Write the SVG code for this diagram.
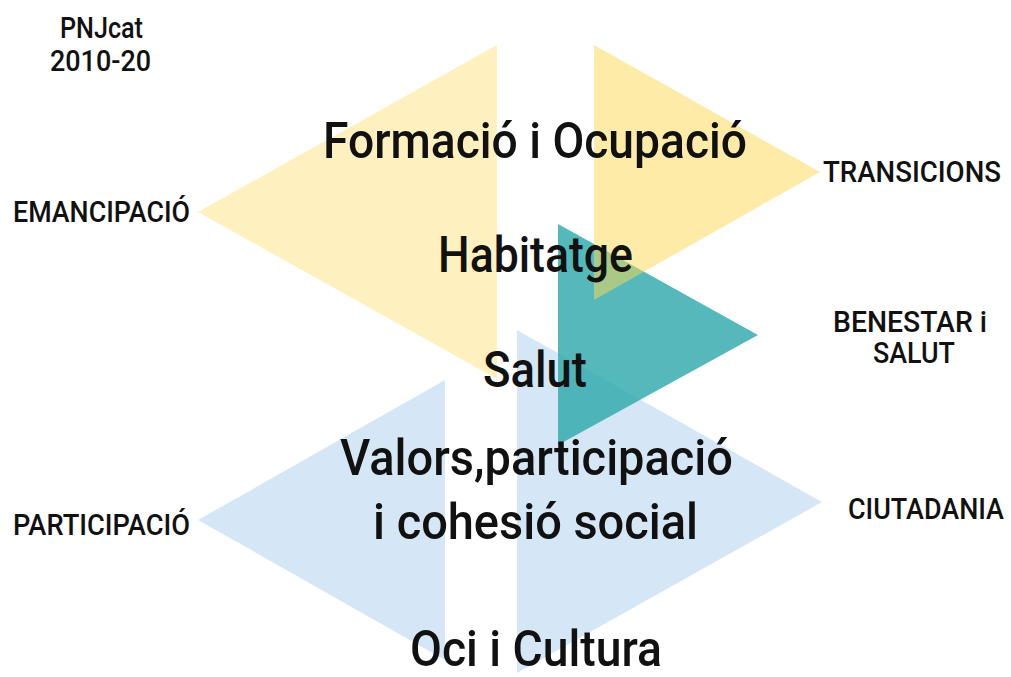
<svg xmlns="http://www.w3.org/2000/svg" width="1011" height="677" viewBox="0 0 1011 677">
<style>
text{font-family:Roboto,"DejaVu Sans",sans-serif;fill:#111;}
.big{font-size:50px;font-weight:500;}
.sm{font-size:29px;font-weight:500;}
.yl{fill:#FFF0C0;}
.yr{fill:#FFD751;fill-opacity:0.5;}
.tl{fill:#2BA7AA;fill-opacity:0.8;}
.lb{fill:#D5E7F6;}
</style>
<rect width="1011" height="677" fill="#ffffff"/>
<g id="shapes">
<polygon id="tri-emancipacio" class="yl" points="198,212 497,45 497,379"/>
<polygon id="tri-participacio" class="lb" points="198,520 445,380 445,660"/>
<polygon id="tri-ciutadania" class="lb" points="517,330 822,502 517,673"/>
<polygon id="tri-benestar" class="tl" points="558,224 758,335 558,445"/>
<polygon id="tri-transicions" class="yr" points="594,45 820,172 594,300"/>
</g>
<g id="labels">
<text x="60" y="38" class="sm" textLength="83" lengthAdjust="spacingAndGlyphs">PNJcat</text>
<text x="50" y="71" class="sm" textLength="101" lengthAdjust="spacingAndGlyphs">2010-20</text>
<text x="13" y="222" class="sm" textLength="177" lengthAdjust="spacingAndGlyphs">EMANCIPACIÓ</text>
<text x="13" y="535" class="sm" textLength="177" lengthAdjust="spacingAndGlyphs">PARTICIPACIÓ</text>
<text x="823" y="182" class="sm" textLength="178" lengthAdjust="spacingAndGlyphs">TRANSICIONS</text>
<text x="833" y="332" class="sm" textLength="154" lengthAdjust="spacingAndGlyphs">BENESTAR i</text>
<text x="873" y="363" class="sm" textLength="82" lengthAdjust="spacingAndGlyphs">SALUT</text>
<text x="1004" y="519" class="sm" text-anchor="end" textLength="156" lengthAdjust="spacingAndGlyphs">CIUTADANIA</text>
<text x="323" y="158" class="big" textLength="424" lengthAdjust="spacingAndGlyphs">Formació i Ocupació</text>
<text x="438" y="272" class="big" textLength="195" lengthAdjust="spacingAndGlyphs">Habitatge</text>
<text x="483" y="387" class="big" textLength="104" lengthAdjust="spacingAndGlyphs">Salut</text>
<text x="340" y="475" class="big" textLength="393" lengthAdjust="spacingAndGlyphs">Valors,participació</text>
<text x="373" y="539" class="big" textLength="325" lengthAdjust="spacingAndGlyphs">i cohesió social</text>
<text x="410" y="666" class="big" textLength="252" lengthAdjust="spacingAndGlyphs">Oci i Cultura</text>
</g>
</svg>
